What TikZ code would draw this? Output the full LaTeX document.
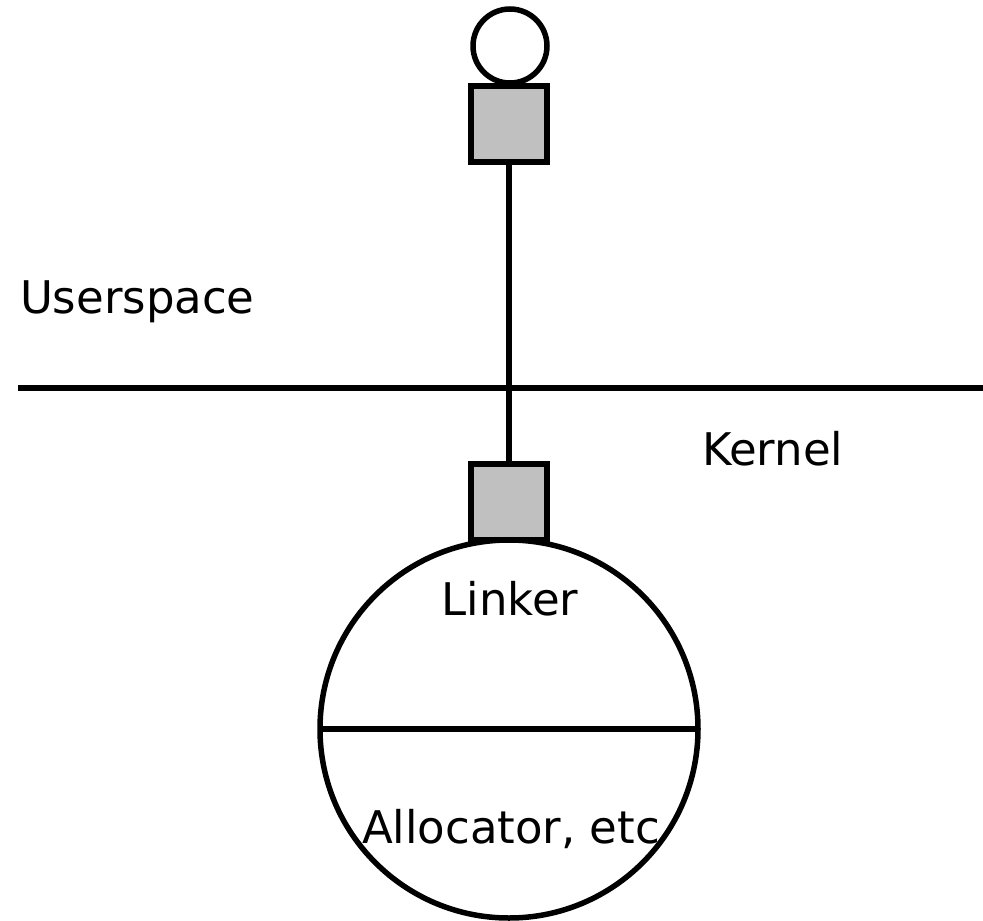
\documentclass[tikz,border=0pt]{standalone}
\usepackage{fontspec}
\setmainfont{DejaVu Sans}
\definecolor{boxgray}{RGB}{192,192,192}
\begin{document}
\begin{tikzpicture}[x=1pt,y=-1pt,line width=5.5pt,
		every node/.style={inner sep=0pt,outer sep=0pt},
		port/.style={draw,fill=boxgray,minimum size=76pt},
		ball/.style={draw,circle},
		label/.style={font=\fontsize{45}{54}\selectfont}]
			\useasboundingbox (0,0) rectangle (983,921);
			\node[ball,minimum size=74pt] (user) at (510,46) {};
			\node[port] (userport) at (509,124) {};
			\node[port] (kernport) at (509,502) {};
			\node[ball,minimum size=378pt] (kernel) at (509,729) {};
			\coordinate (sepL) at (18,388);
			\coordinate (sepR) at (983,388);
			\draw (sepL) -- (sepR);
			\draw (userport.south) -- (kernport.north);
			\draw (kernel.west) -- (kernel.east);
			\node[label,anchor=base west] (userspace) at (20,313) {Userspace};
			\node[label,anchor=base west] (kerneltxt) at (702,465) {Kernel};
			\node[label,anchor=base] (linker) at (510,615) {Linker};
			\node[label,anchor=base] (alloc) at (511,843) {Allocator, etc};
		\end{tikzpicture}
\end{document}
